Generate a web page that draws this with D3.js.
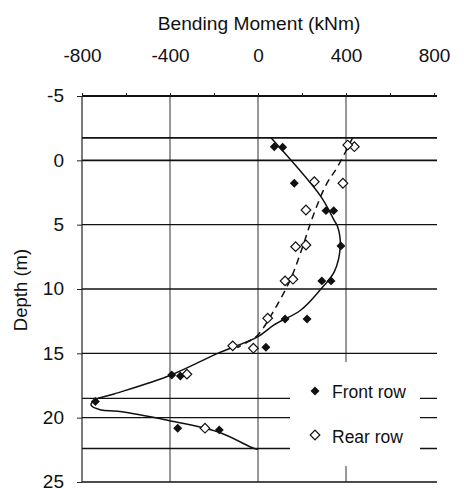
<!DOCTYPE html>
<html>
<head>
<meta charset="UTF-8">
<title>Bending Moment</title>
<script src="https://d3js.org/d3.v7.min.js"></script>
<style>
  * { margin: 0; padding: 0; }
  body { background: #fff; width: 464px; height: 489px; overflow: hidden; }
  svg { display: block; font-family: "Liberation Sans", Arial, sans-serif; }
</style>
</head>
<body>
<div id="chart"></div>
<script>
// measured points, moment in kNm vs depth in m
const frontMoment = [74, 112, 165, 309, 344, 377, 290, 332, 123, 223, 36, -392, -353, -739, -365, -176];
const frontDepth  = [-1.06, -1.01, 1.78, 3.91, 3.91, 6.65, 9.37, 9.37, 12.33, 12.33, 14.53, 16.68, 16.76, 18.75, 20.82, 20.95];

const rearMoment = [438, 408, 256, 386, 218, 171, 218, 123, 159, 44, -115, -21, -323, -241];
const rearDepth  = [-1.06, -1.19, 1.66, 1.78, 3.86, 6.71, 6.58, 9.37, 9.24, 12.27, 14.42, 14.6, 16.62, 20.82];

// fitted curves
const frontFitMoment = [59, 286, 345, 362, 374, 347, 286, 195, 73, 0, -183, -395, -654, -739, -759, -714, -638, -411, -183, -17, 0];
const frontFitDepth  = [-1.75, 2.82, 4.63, 5.16, 6.66, 8.65, 10.0, 11.63, 12.79, 13.7, 15.0, 16.68, 18.16, 18.6, 19.0, 19.4, 19.5, 20.2, 21.1, 22.4, 22.45];

const rearFitMoment = [430, 362, 309, 249, 203, 150, 74, -1, -55, -95];
const rearFitDepth  = [-1.75, 0.49, 1.92, 4.38, 6.71, 9.16, 11.63, 13.57, 14.2, 14.55];

const xTicks = [-800, -400, 0, 400, 800];
const xMinorTicks = [-800, -600, -400, -200, 0, 200, 400, 600, 800];
const yTicks = [-5, 0, 5, 10, 15, 20, 25];
const hLines = [-5, -1.75, 0, 5, 10, 15, 18.5, 20, 22.4, 25];
const vLines = [-400, 0, 400];

const width = 464, height = 489;

const x = d3.scaleLinear().domain([-800, 800]).range([82, 434]);
const y = d3.scaleLinear().domain([-5, 25]).range([96, 482]);

const svg = d3.select('#chart').append('svg')
  .attr('width', width)
  .attr('height', height);

// vertical grid
svg.append('g').selectAll('line')
  .data(vLines).enter().append('line')
  .attr('x1', d => x(d)).attr('x2', d => x(d))
  .attr('y1', y(-5)).attr('y2', y(25))
  .attr('stroke', '#333').attr('stroke-width', 1);

// horizontal lines
svg.append('g').selectAll('line')
  .data(hLines).enter().append('line')
  .attr('x1', x(-800)).attr('x2', 437)
  .attr('y1', d => y(d)).attr('y2', d => y(d))
  .attr('stroke', '#111')
  .attr('stroke-width', d => (d === -1.75 || d === 0 || d === -5) ? 1.8 : 1.4);

// left axis line
svg.append('line')
  .attr('x1', x(-800)).attr('x2', x(-800))
  .attr('y1', y(-5)).attr('y2', y(25))
  .attr('stroke', '#222').attr('stroke-width', 1.2);

// legend box hides the grid behind it
svg.append('rect')
  .attr('x', 290).attr('y', 362)
  .attr('width', 130).attr('height', 104)
  .attr('fill', '#fff');

const fmt = d => String(d);

// axes
const topAxis = svg.append('g')
  .attr('transform', `translate(0,${y(-5)})`)
  .call(d3.axisTop(x).tickValues(xTicks).tickSize(0).tickPadding(34).tickFormat(fmt));
topAxis.select('.domain').remove();
topAxis.selectAll('text').attr('font-size', 19).attr('fill', '#111')
  .attr('font-family', '"Liberation Sans", Arial, sans-serif');

const minorAxis = svg.append('g')
  .attr('transform', `translate(0,${y(-5)})`)
  .call(d3.axisTop(x).tickValues(xMinorTicks).tickSize(3).tickFormat(''));
minorAxis.select('.domain').remove();
minorAxis.selectAll('line').attr('stroke', '#222');

const leftAxis = svg.append('g')
  .attr('transform', `translate(${x(-800)},0)`)
  .call(d3.axisLeft(y).tickValues(yTicks).tickSize(5).tickPadding(13).tickFormat(fmt));
leftAxis.select('.domain').remove();
leftAxis.selectAll('line').attr('stroke', '#222');
leftAxis.selectAll('text').attr('font-size', 19).attr('fill', '#111').attr('dy', '0.3em')
  .attr('font-family', '"Liberation Sans", Arial, sans-serif');

// titles
svg.append('text')
  .attr('x', 259).attr('y', 30)
  .attr('text-anchor', 'middle')
  .attr('font-size', 19.2).attr('fill', '#111')
  .text('Bending Moment (kNm)');

svg.append('text')
  .attr('transform', 'translate(27,290) rotate(-90)')
  .attr('text-anchor', 'middle')
  .attr('font-size', 18.5).attr('fill', '#111')
  .text('Depth (m)');

// fitted curves
const line = d3.line()
  .x(d => x(d[0]))
  .y(d => y(d[1]))
  .curve(d3.curveCatmullRom.alpha(0.5));

svg.append('path')
  .datum(d3.zip(frontFitMoment, frontFitDepth))
  .attr('d', line)
  .attr('fill', 'none').attr('stroke', '#111').attr('stroke-width', 1.5);

svg.append('path')
  .datum(d3.zip(rearFitMoment, rearFitDepth))
  .attr('d', line)
  .attr('fill', 'none').attr('stroke', '#111').attr('stroke-width', 1.5)
  .attr('stroke-dasharray', '7,5');

// markers
const filled = d3.symbol().type(d3.symbolSquare).size(40);
const open = d3.symbol().type(d3.symbolSquare).size(46);

svg.append('g').selectAll('path')
  .data(d3.zip(rearMoment, rearDepth)).enter().append('path')
  .attr('d', open)
  .attr('transform', d => `translate(${x(d[0])},${y(d[1])}) rotate(45)`)
  .attr('fill', '#fff').attr('stroke', '#111').attr('stroke-width', 1.2);

svg.append('g').selectAll('path')
  .data(d3.zip(frontMoment, frontDepth)).enter().append('path')
  .attr('d', filled)
  .attr('transform', d => `translate(${x(d[0])},${y(d[1])}) rotate(45)`)
  .attr('fill', '#111');

// legend
const legend = svg.append('g');
legend.append('path')
  .attr('d', filled)
  .attr('transform', 'translate(315,391) rotate(45)')
  .attr('fill', '#111');
legend.append('text')
  .attr('x', 332).attr('y', 397.5)
  .attr('font-size', 17.5).attr('fill', '#111')
  .text('Front row');
legend.append('path')
  .attr('d', open)
  .attr('transform', 'translate(315,435) rotate(45)')
  .attr('fill', '#fff').attr('stroke', '#111').attr('stroke-width', 1.2);
legend.append('text')
  .attr('x', 332).attr('y', 443)
  .attr('font-size', 17.5).attr('fill', '#111')
  .text('Rear row');
</script>
</body>
</html>
